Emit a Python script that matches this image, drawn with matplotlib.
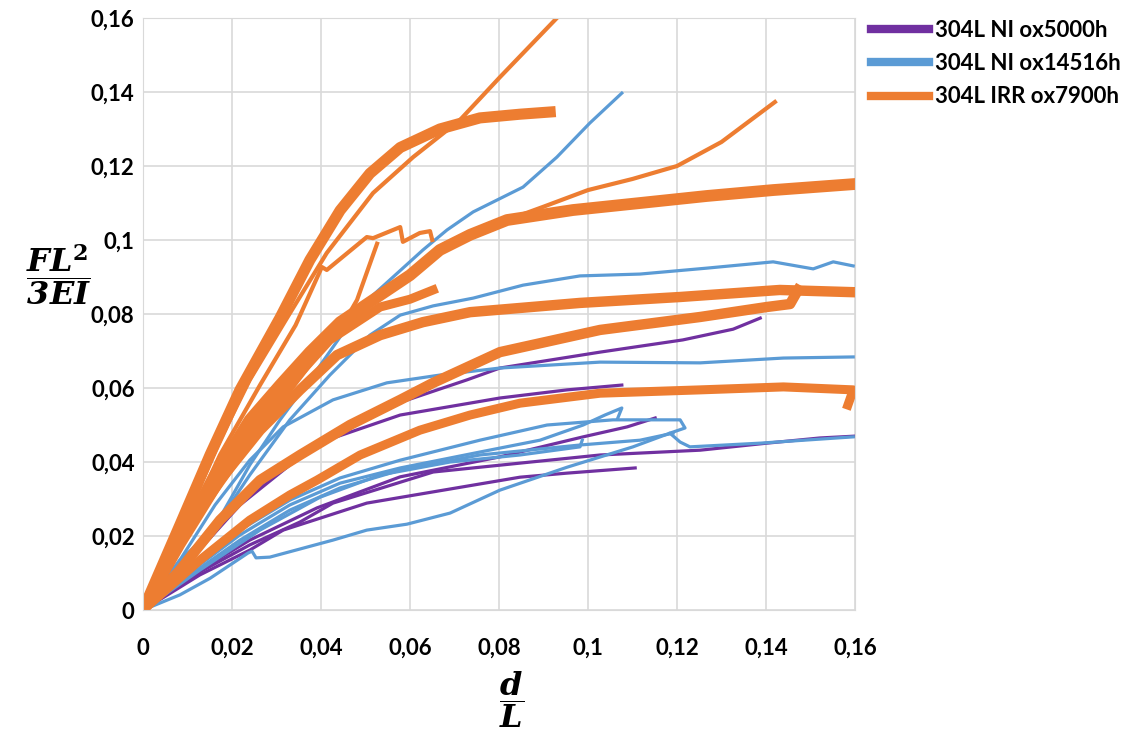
import matplotlib
matplotlib.use("Agg")
import matplotlib.pyplot as plt
from matplotlib.lines import Line2D

plt.rcParams['font.family'] = ['Lato', 'DejaVu Sans']
plt.rcParams['mathtext.fontset'] = 'dejavuserif'

# 304L NI ox5000h (purple)
p1_x = [0, 0.0083, 0.0173, 0.0263, 0.033, 0.0427, 0.0548, 0.0728, 0.0802, 0.1027, 0.1213, 0.1326, 0.1387]
p1_y = [0, 0.0108, 0.0243, 0.0338, 0.040, 0.0468, 0.0549, 0.0622, 0.0654, 0.0697, 0.0730, 0.0759, 0.0789]
p2_x = [0, 0.0106, 0.0218, 0.033, 0.0413, 0.0578, 0.0802, 0.0953, 0.1076]
p2_y = [0, 0.0135, 0.0284, 0.0392, 0.0459, 0.0527, 0.0573, 0.0595, 0.0608]
p3_x = [0, 0.0128, 0.024, 0.0391, 0.0578, 0.0802, 0.0989, 0.1088, 0.1151]
p3_y = [0, 0.0108, 0.0189, 0.0276, 0.036, 0.0414, 0.0468, 0.0495, 0.0519]
p4_x = [0, 0.0128, 0.024, 0.0353, 0.0427, 0.0652, 0.0847, 0.1027, 0.1252, 0.1402, 0.1521, 0.16]
p4_y = [0, 0.0103, 0.0176, 0.0238, 0.0289, 0.0373, 0.0397, 0.0419, 0.0432, 0.0451, 0.0465, 0.047]
p5_x = [0, 0.0128, 0.024, 0.0315, 0.0503, 0.0847, 0.0953, 0.1106]
p5_y = [0, 0.0095, 0.0162, 0.0216, 0.0289, 0.0359, 0.037, 0.0384]

# 304L NI ox14516h (blue)
b1_x = [0, 0.0083, 0.0157, 0.024, 0.0308, 0.0391, 0.0454, 0.0517, 0.0629, 0.0683, 0.0742, 0.0854, 0.093, 0.1004, 0.1076]
b1_y = [0, 0.0135, 0.0216, 0.0392, 0.0514, 0.0649, 0.0757, 0.0851, 0.0973, 0.1027, 0.1076, 0.1143, 0.1224, 0.1316, 0.1397]
b2_x = [0, 0.0083, 0.0157, 0.024, 0.033, 0.042, 0.051, 0.0578, 0.0652, 0.0742, 0.0854, 0.0982, 0.1117, 0.1267, 0.1416, 0.1506, 0.1551, 0.1596]
b2_y = [0, 0.0122, 0.0216, 0.0365, 0.0514, 0.0635, 0.0743, 0.0797, 0.0822, 0.0843, 0.0878, 0.0903, 0.0908, 0.0924, 0.0941, 0.0922, 0.0941, 0.093]
b3_x = [0, 0.0083, 0.0162, 0.024, 0.0315, 0.0427, 0.0548, 0.0667, 0.0802, 0.1027, 0.1252, 0.1439, 0.1596]
b3_y = [0, 0.0135, 0.0284, 0.0405, 0.0495, 0.0568, 0.0614, 0.0635, 0.0654, 0.067, 0.0668, 0.0681, 0.0684]
b4_x = [0, 0.0083, 0.0151, 0.0236, 0.0245, 0.0254, 0.0285, 0.0353, 0.0427, 0.0503, 0.0593, 0.069, 0.0802, 0.0953, 0.1101, 0.1184, 0.1207, 0.1229, 0.1387, 0.1596]
b4_y = [0, 0.0041, 0.0086, 0.0154, 0.0159, 0.0141, 0.0143, 0.0165, 0.0189, 0.0216, 0.0232, 0.0262, 0.0324, 0.0386, 0.0441, 0.0478, 0.0454, 0.0441, 0.0451, 0.0468]
b5_x = [0, 0.0106, 0.0218, 0.033, 0.0443, 0.0578, 0.0757, 0.0908, 0.1056, 0.1207, 0.1218, 0.1184]
b5_y = [0, 0.0108, 0.0216, 0.0297, 0.0357, 0.0405, 0.0459, 0.050, 0.0514, 0.0514, 0.0492, 0.0478]
b6_x = [0, 0.0106, 0.0218, 0.033, 0.0443, 0.0578, 0.0757, 0.0892, 0.0989, 0.1038, 0.1076, 0.1067]
b6_y = [0, 0.0103, 0.0203, 0.0284, 0.0343, 0.0384, 0.0427, 0.0459, 0.050, 0.0527, 0.0546, 0.0519]
b7_x = [0, 0.0106, 0.0218, 0.033, 0.0443, 0.0578, 0.0757, 0.0982, 0.1117, 0.1191]
b7_y = [0, 0.0095, 0.0189, 0.027, 0.033, 0.0378, 0.0419, 0.0446, 0.0459, 0.0478]
b8_x = [0, 0.0128, 0.0263, 0.0398, 0.0533, 0.069, 0.0847, 0.0982, 0.0987]
b8_y = [0, 0.0108, 0.0216, 0.0305, 0.0365, 0.040, 0.0419, 0.0441, 0.0459]

# 304L IRR ox7900h (orange)
o1_x = [0, 0.0094, 0.0173, 0.024, 0.0324, 0.0413, 0.0517, 0.0607, 0.0712, 0.0802, 0.093]
o1_y = [0, 0.0243, 0.0459, 0.0622, 0.079, 0.0965, 0.1127, 0.1224, 0.1324, 0.144, 0.16]
o2_x = [0, 0.0083, 0.0151, 0.0218, 0.0308, 0.0375, 0.0443, 0.051, 0.0578, 0.0667, 0.0757, 0.0847, 0.0915]
o2_y = [0, 0.023, 0.042, 0.0595, 0.079, 0.0946, 0.108, 0.118, 0.125, 0.130, 0.133, 0.134, 0.1346]
o3_x = [0, 0.0094, 0.0173, 0.0263, 0.0343, 0.0402, 0.0413, 0.0503, 0.0517, 0.0578, 0.0584, 0.0622, 0.0645, 0.065]
o3_y = [0, 0.0216, 0.0419, 0.0608, 0.0770, 0.0927, 0.0919, 0.1008, 0.1005, 0.1035, 0.0995, 0.1019, 0.1024, 0.100]
o4_x = [0, 0.0128, 0.0263, 0.0375, 0.0458, 0.0481, 0.0526]
o4_y = [0, 0.0257, 0.0486, 0.0662, 0.079, 0.0838, 0.099]
o5_x = [0, 0.0105, 0.0218, 0.0330, 0.0420, 0.0533, 0.060, 0.0652]
o5_y = [0, 0.0230, 0.0440, 0.0610, 0.0730, 0.0819, 0.0840, 0.0865]
o6_x = [0, 0.0083, 0.0162, 0.024, 0.0308, 0.0375, 0.0443, 0.0533, 0.060, 0.0667, 0.0735, 0.0818, 0.0966, 0.1117, 0.1267, 0.1416, 0.1596]
o6_y = [0, 0.0189, 0.0365, 0.0514, 0.0608, 0.0697, 0.0778, 0.0851, 0.0905, 0.0973, 0.1014, 0.1054, 0.1081, 0.110, 0.1119, 0.1135, 0.1151]
o6b_x = [0.0818, 0.0900, 0.1000, 0.1100, 0.1200, 0.1300, 0.1420]
o6b_y = [0.1054, 0.1090, 0.1135, 0.1165, 0.1200, 0.1265, 0.1373]
o7_x = [0, 0.0083, 0.0173, 0.0263, 0.0353, 0.0436, 0.0533, 0.0629, 0.0735, 0.0982, 0.1207, 0.1431, 0.1596]
o7_y = [0, 0.0176, 0.0351, 0.0486, 0.0595, 0.0689, 0.0743, 0.0778, 0.0805, 0.083, 0.0846, 0.0865, 0.0859]
o8_x = [0, 0.0083, 0.0173, 0.0263, 0.0353, 0.0465, 0.0578, 0.0652, 0.0802, 0.1027, 0.1252, 0.1402, 0.1454, 0.1472]
o8_y = [0, 0.0108, 0.0243, 0.0351, 0.0419, 0.050, 0.0568, 0.0614, 0.0697, 0.0757, 0.0792, 0.0819, 0.0827, 0.0865]
o9_x = [0, 0.0128, 0.024, 0.033, 0.0391, 0.0488, 0.0622, 0.0735, 0.0847, 0.1027, 0.1252, 0.1439, 0.1596, 0.1584]
o9_y = [0, 0.0135, 0.0243, 0.0311, 0.0351, 0.0419, 0.0486, 0.0527, 0.0559, 0.0586, 0.0595, 0.0603, 0.0595, 0.0554]

purple = '#7030A0'
blue = '#5B9BD5'
orange = '#ED7D31'

fig = plt.figure(figsize=(11.24, 7.38), dpi=100)
ax = fig.add_axes([0.1272, 0.1734, 0.6335, 0.8022])

for x, y in [(p1_x, p1_y), (p2_x, p2_y), (p3_x, p3_y), (p4_x, p4_y), (p5_x, p5_y)]:
    ax.plot(x, y, color=purple, lw=2.3)

for x, y in [(b1_x, b1_y), (b2_x, b2_y), (b3_x, b3_y), (b4_x, b4_y),
             (b5_x, b5_y), (b6_x, b6_y), (b7_x, b7_y), (b8_x, b8_y)]:
    ax.plot(x, y, color=blue, lw=2.3)

# thin orange curves
for x, y in [(o1_x, o1_y), (o3_x, o3_y), (o4_x, o4_y), (o6b_x, o6b_y)]:
    ax.plot(x, y, color=orange, lw=3)
# thick (noisy) orange curves
for x, y, w in [(o2_x, o2_y, 8), (o5_x, o5_y, 6.5), (o6_x, o6_y, 8.5),
                (o7_x, o7_y, 7.5), (o8_x, o8_y, 7.5), (o9_x, o9_y, 6.5)]:
    ax.plot(x, y, color=orange, lw=w, solid_joinstyle='round')

ax.set_xlim(0, 0.16)
ax.set_ylim(0, 0.16)
ticks = [0, 0.02, 0.04, 0.06, 0.08, 0.1, 0.12, 0.14, 0.16]
labels = ['0', '0,02', '0,04', '0,06', '0,08', '0,1', '0,12', '0,14', '0,16']
ax.set_xticks(ticks)
ax.set_xticklabels(labels)
ax.set_yticks(ticks)
ax.set_yticklabels(labels)
ax.tick_params(length=0, labelsize=16)
ax.tick_params(axis='x', pad=20)
ax.tick_params(axis='y', pad=6)
for t in ax.get_xticklabels() + ax.get_yticklabels():
    t.set_fontweight('bold')
ax.grid(True, color='#D9D9D9', lw=1.2)
ax.set_axisbelow(True)
for s in ax.spines.values():
    s.set_color('#D9D9D9')

fig.text(0.052, 0.628, r'$\dfrac{\mathbfit{FL}^{\mathbf{2}}}{\mathbfit{3EI}}$', fontsize=23,
         ha='center', va='center')
fig.text(0.455, 0.052, r'$\dfrac{\mathbfit{d}}{\mathbfit{L}}$', fontsize=23,
         ha='center', va='center')

handles = [Line2D([], [], color=purple, lw=6),
           Line2D([], [], color=blue, lw=6),
           Line2D([], [], color=orange, lw=6)]
fig.legend(handles, ['304L NI ox5000h', '304L NI ox14516h', '304L IRR ox7900h'],
           loc='upper left', bbox_to_anchor=(0.757, 1.0), frameon=False,
           prop={'weight': 'bold', 'size': 16}, handlelength=2.6,
           handletextpad=0.3, labelspacing=0.55)

fig.savefig('out.png', dpi=100)
